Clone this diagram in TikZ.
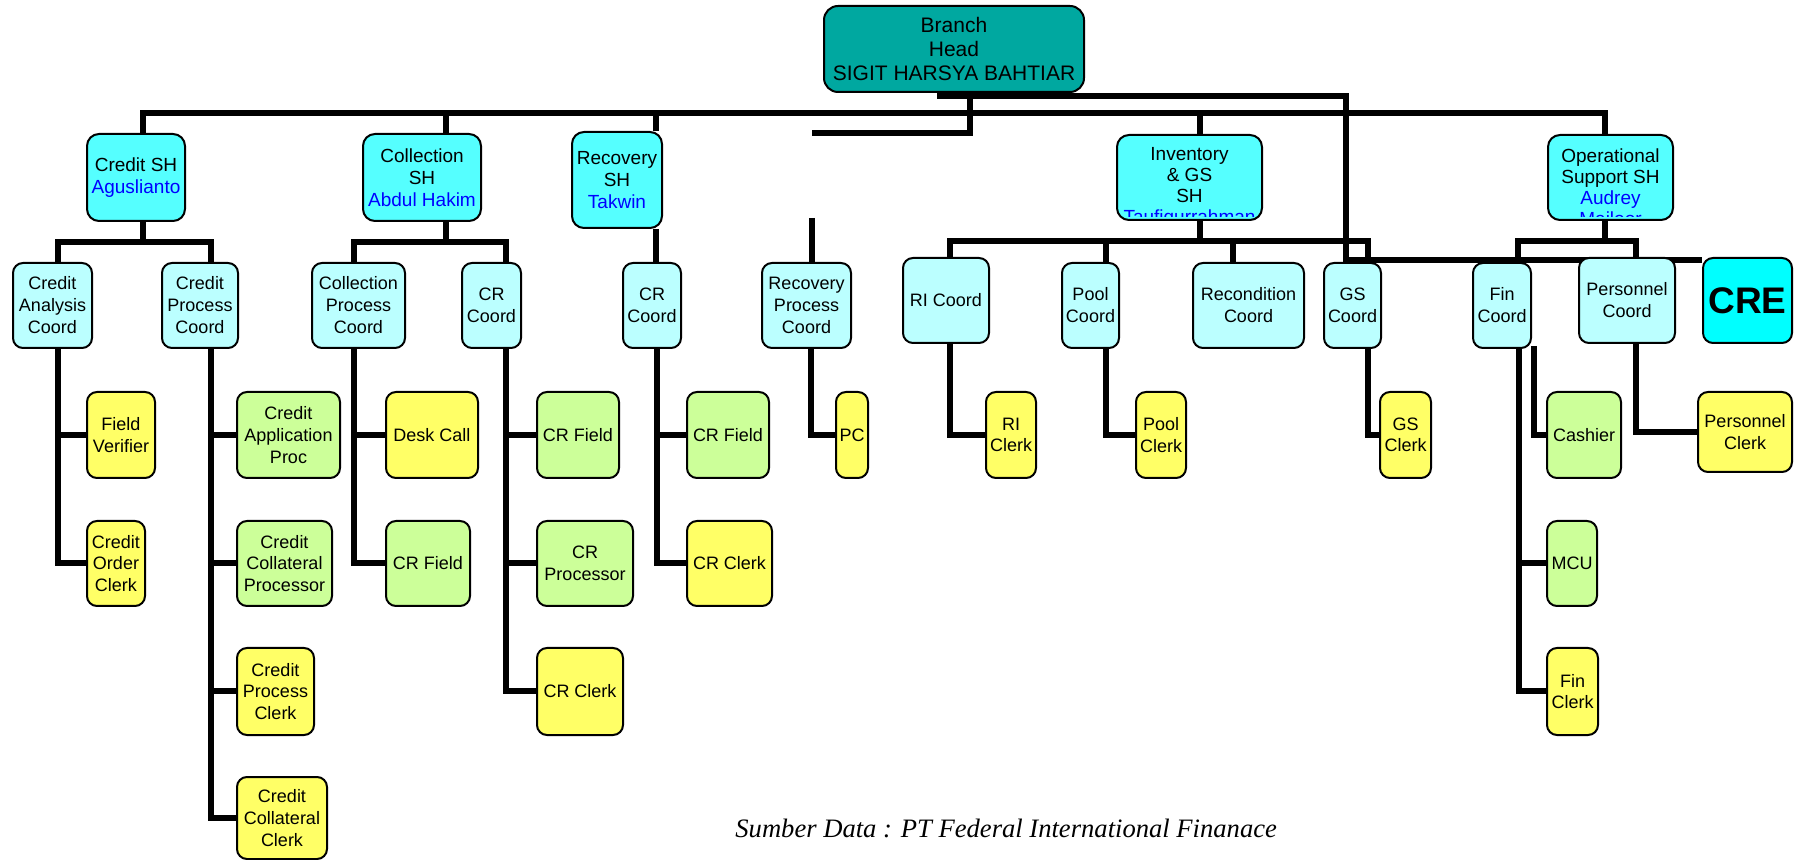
\documentclass[tikz,border=0pt]{standalone}
\usepackage{fontspec}
\setmainfont{Liberation Sans}
\newfontfamily\captionserif{Liberation Serif}
\usetikzlibrary{backgrounds}
\definecolor{headteal}{RGB}{0,168,160}
\definecolor{shcyan}{RGB}{85,255,255}
\definecolor{coordcyan}{RGB}{187,255,255}
\definecolor{crecyan}{RGB}{0,255,255}
\definecolor{clerkyellow}{RGB}{255,255,102}
\definecolor{procgreen}{RGB}{204,255,153}
\definecolor{nameblue}{RGB}{0,0,255}
\begin{document}
\begin{tikzpicture}[x=0.5pt,y=-0.5pt,
  box/.style={draw=black, line width=1pt, rounded corners=5pt, align=center, inner sep=0pt, text=black},
  headbox/.style={box, fill=headteal, rounded corners=7pt, font=\fontsize{10.5}{12}\selectfont},
  shbox/.style={box, fill=shcyan, rounded corners=6pt, font=\fontsize{9.5}{11}\selectfont},
  shtext/.style={align=center, inner sep=0pt, font=\fontsize{9.5}{10.5}\selectfont},
  coordbox/.style={box, fill=coordcyan, font=\fontsize{9}{11}\selectfont},
  crebox/.style={box, fill=crecyan, font=\fontsize{18.5}{20}\selectfont\bfseries},
  clerkbox/.style={box, fill=clerkyellow, font=\fontsize{9}{10.8}\selectfont},
  procbox/.style={box, fill=procgreen, font=\fontsize{9}{10.8}\selectfont},
  conn/.style={line width=3pt, line join=miter, draw=black}
]
\useasboundingbox (0,0) rectangle (1794,860);

% top
\node[headbox, minimum width=130pt, minimum height=43pt] (BH) at (954,49) {Branch\\Head\\SIGIT HARSYA BAHTIAR};

% section heads
\node[shbox, minimum width=49pt, minimum height=43.5pt] (CreditSH) at (136,177.5) {Credit SH\\\textcolor{nameblue}{Aguslianto}};
\node[shbox, minimum width=59pt, minimum height=43.5pt] (CollSH) at (422,177.5) {Collection\\SH\\\textcolor{nameblue}{Abdul Hakim}};
\node[shbox, minimum width=45pt, minimum height=48pt] (RecSH) at (617,180) {Recovery\\SH\\\textcolor{nameblue}{Takwin}};
\node[shbox, minimum width=72.5pt, minimum height=42.5pt] (InvSH) at (1189.5,177.5) {};
\node[shbox, minimum width=62.5pt, minimum height=42.5pt] (OpSH) at (1610.5,177.5) {};
\begin{scope}
  \clip ([shift={(1pt,-1pt)}]InvSH.north west) rectangle ([shift={(-1pt,2pt)}]InvSH.south east);
  \node[shtext] (InvTxt) at ([yshift=-4.75pt]InvSH.center) {Inventory\\\& GS\\SH\\\textcolor{nameblue}{Taufiqurrahman}};
\end{scope}
\begin{scope}
  \clip ([shift={(1pt,-1pt)}]OpSH.north west) rectangle ([shift={(-1pt,2pt)}]OpSH.south east);
  \node[shtext] (OpTxt) at ([yshift=-4.75pt]OpSH.center) {Operational\\Support SH\\\textcolor{nameblue}{Audrey}\\\textcolor{nameblue}{Mailoor}};
\end{scope}

% coordinators
\node[coordbox, minimum width=39.5pt, minimum height=42.5pt] (CAC) at (52.5,305.5) {Credit\\Analysis\\Coord};
\node[coordbox, minimum width=38pt, minimum height=42.5pt] (CPC) at (200,305.5) {Credit\\Process\\Coord};
\node[coordbox, minimum width=46.5pt, minimum height=42.5pt] (CollPC) at (358.5,305.5) {Collection\\Process\\Coord};
\node[coordbox, minimum width=29.5pt, minimum height=42.5pt] (CRC1) at (491.5,305.5) {CR\\Coord};
\node[coordbox, minimum width=29pt, minimum height=42.5pt] (CRC2) at (652,305.5) {CR\\Coord};
\node[coordbox, minimum width=44.5pt, minimum height=42.5pt] (RPC) at (806.5,305.5) {Recovery\\Process\\Coord};
\node[coordbox, minimum width=43pt, minimum height=42.5pt] (RIC) at (946,300.5) {RI Coord};
\node[coordbox, minimum width=28.5pt, minimum height=42.5pt] (PoolC) at (1090.5,305.5) {Pool\\Coord};
\node[coordbox, minimum width=55.5pt, minimum height=42.5pt] (RecC) at (1248.5,305.5) {Recondition\\Coord};
\node[coordbox, minimum width=28.5pt, minimum height=42.5pt] (GSC) at (1352.5,305.5) {GS\\Coord};
\node[coordbox, minimum width=29pt, minimum height=42.5pt] (FinC) at (1502,305.5) {Fin\\Coord};
\node[coordbox, minimum width=48pt, minimum height=42.5pt] (PersC) at (1627,300.5) {Personnel\\Coord};
\node[crebox, minimum width=44.5pt, minimum height=42.5pt] (CRE) at (1747.5,300.5) {CRE};

% row 3
\node[clerkbox, minimum width=34pt, minimum height=43pt] (FV) at (121,435) {Field\\Verifier};
\node[procbox, minimum width=51.5pt, minimum height=43pt] (CAP) at (288.5,435) {Credit\\Application\\Proc};
\node[clerkbox, minimum width=46pt, minimum height=43pt] (DC) at (432,435) {Desk Call};
\node[procbox, minimum width=41pt, minimum height=43pt] (CRF1) at (578,435) {CR Field};
\node[procbox, minimum width=41pt, minimum height=43pt] (CRF2) at (728,435) {CR Field};
\node[clerkbox, minimum width=16pt, minimum height=43pt] (PC) at (852,435) {PC};
\node[clerkbox, minimum width=25pt, minimum height=43pt] (RICl) at (1011,435) {RI\\Clerk};
\node[clerkbox, minimum width=25pt, minimum height=43pt] (PoolCl) at (1161,435) {Pool\\Clerk};
\node[clerkbox, minimum width=25.5pt, minimum height=43pt] (GSCl) at (1405.5,435) {GS\\Clerk};
\node[procbox, minimum width=37pt, minimum height=43pt] (Cashier) at (1584,435) {Cashier};
\node[clerkbox, minimum width=47pt, minimum height=40pt] (PersCl) at (1745,432) {Personnel\\Clerk};

% row 4
\node[clerkbox, minimum width=29pt, minimum height=42.5pt] (COC) at (116,563.5) {Credit\\Order\\Clerk};
\node[procbox, minimum width=47.5pt, minimum height=42.5pt] (CCP) at (284.5,563.5) {Credit\\Collateral\\Processor};
\node[procbox, minimum width=42pt, minimum height=42.5pt] (CRF3) at (428,563.5) {CR Field};
\node[procbox, minimum width=48pt, minimum height=42.5pt] (CRP) at (585,563.5) {CR\\Processor};
\node[clerkbox, minimum width=42.5pt, minimum height=42.5pt] (CRCl2) at (729.5,563.5) {CR Clerk};
\node[procbox, minimum width=25pt, minimum height=42.5pt] (MCU) at (1572,563.5) {MCU};

% row 5
\node[clerkbox, minimum width=38.5pt, minimum height=43.5pt] (CPCl) at (275.5,691.5) {Credit\\Process\\Clerk};
\node[clerkbox, minimum width=43pt, minimum height=43.5pt] (CRCl1) at (580,691.5) {CR Clerk};
\node[clerkbox, minimum width=25.5pt, minimum height=43.5pt] (FinCl) at (1572.5,691.5) {Fin\\Clerk};

% row 6
\node[clerkbox, minimum width=45pt, minimum height=41pt] (CCC) at (282,818) {Credit\\Collateral\\Clerk};

% source
\node[anchor=base west, inner sep=0pt, font=\captionserif\itshape\fontsize{13.3}{15}\selectfont] (src) at (735,837) {Sumber Data : PT Federal International Finanace};

% connectors
\begin{scope}[on background layer]
  \coordinate (busY) at (0,113);
  \coordinate (yCred) at (0,242);
  \coordinate (yInv) at (0,241);
  \coordinate (busC) at (0,260);
  \coordinate (strayEnd) at (812,133);
  \coordinate (strayTop) at (812,218);

  % main bus
  \coordinate (credSHt) at ([xshift=3.5pt]CreditSH.north);
  \coordinate (opSHt) at ([xshift=-2.75pt]OpSH.north);
  \draw[conn] (credSHt) |- (opSHt |- busY) -- (opSHt);
  \coordinate (collSHt) at ([xshift=12pt]CollSH.north);
  \draw[conn] (collSHt) -- (collSHt |- busY);
  \coordinate (recSHt) at ([xshift=19.5pt]RecSH.north);
  \draw[conn] (recSHt) -- (recSHt |- busY);
  \coordinate (invSHt) at ([xshift=5.25pt]InvSH.north);
  \draw[conn] (invSHt) -- (invSHt |- busY);

  % branch head lines
  \coordinate (bhA) at ([xshift=8pt]BH.south);
  \draw[conn] (bhA) |- (strayEnd);
  \coordinate (bhB) at ([xshift=-8.5pt,yshift=-1.5pt]BH.south);
  \coordinate (gsL) at ([xshift=-3.25pt]GSC.north);
  \draw[conn] (bhB) -| (gsL |- busC) -- (CRE.west |- busC);

  % credit group
  \coordinate (credSHb) at ([xshift=3.5pt]CreditSH.south);
  \draw[conn] (credSHb) -- (credSHb |- yCred);
  \coordinate (cacT) at ([xshift=2.75pt]CAC.north);
  \coordinate (cpcT) at ([xshift=5.5pt]CPC.north);
  \draw[conn] (cacT) |- (cpcT |- yCred) -- (cpcT);

  % collection group
  \coordinate (collSHb) at ([xshift=12pt]CollSH.south);
  \draw[conn] (collSHb) -- (collSHb |- yCred);
  \coordinate (cpT) at ([xshift=-2.25pt]CollPC.north);
  \coordinate (crc1T) at ([xshift=7.25pt]CRC1.north);
  \draw[conn] (cpT) |- (crc1T |- yCred) -- (crc1T);

  % recovery group
  \coordinate (recSHb) at ([xshift=19.5pt]RecSH.south);
  \draw[conn] (recSHb) -- (recSHb |- CRC2.north);
  \draw[conn] (strayTop) -- (strayTop |- RPC.north);

  % inventory group
  \coordinate (invSHb) at ([xshift=5.25pt]InvSH.south);
  \draw[conn] (invSHb) -- (invSHb |- yInv);
  \coordinate (ricT) at ([xshift=2pt]RIC.north);
  \coordinate (gsR) at ([xshift=7.75pt]GSC.north);
  \draw[conn] (ricT) |- (gsR |- yInv) -- (gsR);
  \coordinate (poolT) at ([xshift=7.75pt]PoolC.north);
  \draw[conn] (poolT) -- (poolT |- yInv);
  \coordinate (recT) at ([xshift=-7.75pt]RecC.north);
  \draw[conn] (recT) -- (recT |- yInv);

  % operational group
  \coordinate (opSHb) at ([xshift=-2.75pt]OpSH.south);
  \draw[conn] (opSHb) -- (opSHb |- yInv);
  \coordinate (finT) at ([xshift=8pt]FinC.north);
  \coordinate (persT) at ([xshift=4.5pt]PersC.north);
  \draw[conn] (finT) |- (persT |- yInv) -- (persT);

  % coordinator to staff
  \coordinate (cacB) at ([xshift=2.75pt]CAC.south);
  \draw[conn] (cacB) |- (FV.west);
  \draw[conn] (cacB) |- (COC.west);
  \coordinate (cpcB) at ([xshift=5.5pt]CPC.south);
  \draw[conn] (cpcB) |- (CAP.west);
  \draw[conn] (cpcB) |- (CCP.west);
  \draw[conn] (cpcB) |- (CPCl.west);
  \draw[conn] (cpcB) |- (CCC.west);
  \coordinate (cpB) at ([xshift=-2.25pt]CollPC.south);
  \draw[conn] (cpB) |- (DC.west);
  \draw[conn] (cpB) |- (CRF3.west);
  \coordinate (crc1B) at ([xshift=7.25pt]CRC1.south);
  \draw[conn] (crc1B) |- (CRF1.west);
  \draw[conn] (crc1B) |- (CRP.west);
  \draw[conn] (crc1B) |- (CRCl1.west);
  \coordinate (crc2B) at ([xshift=2.5pt]CRC2.south);
  \draw[conn] (crc2B) |- (CRF2.west);
  \draw[conn] (crc2B) |- (CRCl2.west);
  \coordinate (rpcB) at ([xshift=2.25pt]RPC.south);
  \draw[conn] (rpcB) |- (PC.west);
  \coordinate (ricB) at ([xshift=2pt]RIC.south);
  \draw[conn] (ricB) |- (RICl.west);
  \coordinate (poolB) at ([xshift=7.75pt]PoolC.south);
  \draw[conn] (poolB) |- (PoolCl.west);
  \coordinate (gsB) at ([xshift=7.75pt]GSC.south);
  \draw[conn] (gsB) |- (GSCl.west);
  \coordinate (finB) at ([xshift=8.5pt]FinC.south);
  \draw[conn] (finB) |- (MCU.west);
  \draw[conn] (finB) |- (FinCl.west);
  \coordinate (finB2) at ([xshift=16pt,yshift=1.5pt]FinC.south);
  \draw[conn] (finB2) |- (Cashier.west);
  \coordinate (persB) at ([xshift=4.5pt]PersC.south);
  \draw[conn] (persB) |- (PersCl.west);
\end{scope}
\end{tikzpicture}
\end{document}
